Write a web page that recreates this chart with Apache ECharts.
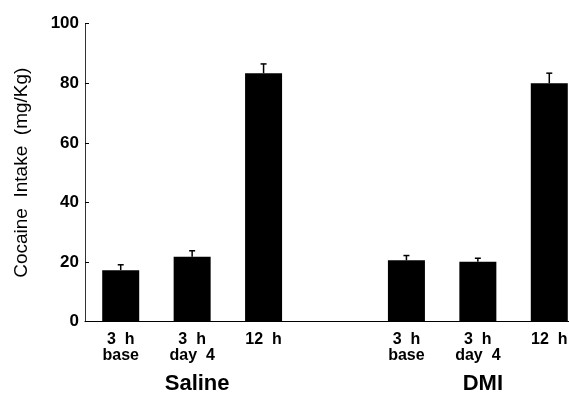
<!DOCTYPE html>
<html>
<head>
<meta charset="utf-8">
<script src="https://cdn.jsdelivr.net/npm/echarts@6/dist/echarts.min.js"></script>
<style>
  html, body { margin: 0; padding: 0; background: #fff; }
  #main { width: 569px; height: 397px; }
</style>
</head>
<body>
<div id="main"></div>
<script>
// categories (index 3 is the empty gap between the two groups)
var categories = ['3  h\nbase', '3  h\nday  4', '12  h', '', '3  h\nbase', '3  h\nday  4', '12  h'];
var groupLabels = ['', 'Saline', '', '', '', 'DMI', ''];
// cocaine intake means and upper error (mg/Kg)
var intake = [17.3, 21.8, 83.4, null, 20.6, 20.1, 80.0];
var errTop = [19.1, 23.8, 86.5, null, 22.2, 21.3, 83.4];
var yTicks = [0, 20, 40, 60, 80, 100];

var chart = echarts.init(document.getElementById('main'), null, { renderer: 'canvas' });

var errData = [];
for (var i = 0; i < intake.length; i++) {
  if (intake[i] != null) errData.push([i, intake[i], errTop[i]]);
}

var font = 'Liberation Sans, Arial, Helvetica, sans-serif';

var option = {
  animation: false,
  grid: { left: 85, right: -16, top: 23.7, bottom: 75.3, outerBoundsMode: 'none', containLabel: false },
  xAxis: [
    {
      type: 'category',
      data: categories,
      axisLine: { lineStyle: { color: '#000', width: 1 } },
      axisTick: { show: false },
      axisLabel: {
        interval: 0,
        margin: 10,
        color: '#000',
        fontFamily: font,
        fontWeight: 'bold',
        fontSize: 16,
        lineHeight: 16
      }
    },
    {
      type: 'category',
      data: groupLabels,
      position: 'bottom',
      offset: 51,
      axisLine: { show: false },
      axisTick: { show: false },
      axisLabel: {
        interval: 0,
        margin: 0,
        padding: [0, 0, 0, 10],
        color: '#000',
        fontFamily: font,
        fontWeight: 'bold',
        fontSize: 22
      }
    }
  ],
  yAxis: {
    type: 'value',
    min: 0,
    max: yTicks[yTicks.length - 1],
    interval: 20,
    name: 'Cocaine  Intake  (mg/Kg)',
    nameLocation: 'middle',
    nameGap: 54,
    nameTextStyle: { color: '#000', fontFamily: font, fontSize: 19 },
    splitLine: { show: false },
    axisLine: { show: true, lineStyle: { color: '#333', width: 1 } },
    axisTick: { show: true, inside: true, length: 4, lineStyle: { color: '#000' } },
    axisLabel: {
      margin: 6,
      color: '#000',
      fontFamily: font,
      fontWeight: 'bold',
      fontSize: 17
    }
  },
  series: [
    {
      type: 'bar',
      data: intake,
      barWidth: 37,
      itemStyle: { color: '#000' }
    },
    {
      type: 'custom',
      data: errData,
      z: 3,
      renderItem: function (params, api) {
        var base = api.coord([api.value(0), api.value(1)]);
        var top = api.coord([api.value(0), api.value(2)]);
        var style = { stroke: '#000', lineWidth: 1.5 };
        return {
          type: 'group',
          children: [
            { type: 'line', shape: { x1: base[0], y1: base[1], x2: top[0], y2: top[1] }, style: style },
            { type: 'line', shape: { x1: top[0] - 3, y1: top[1], x2: top[0] + 3, y2: top[1] }, style: style }
          ]
        };
      }
    }
  ]
};

chart.setOption(option);
</script>
</body>
</html>
